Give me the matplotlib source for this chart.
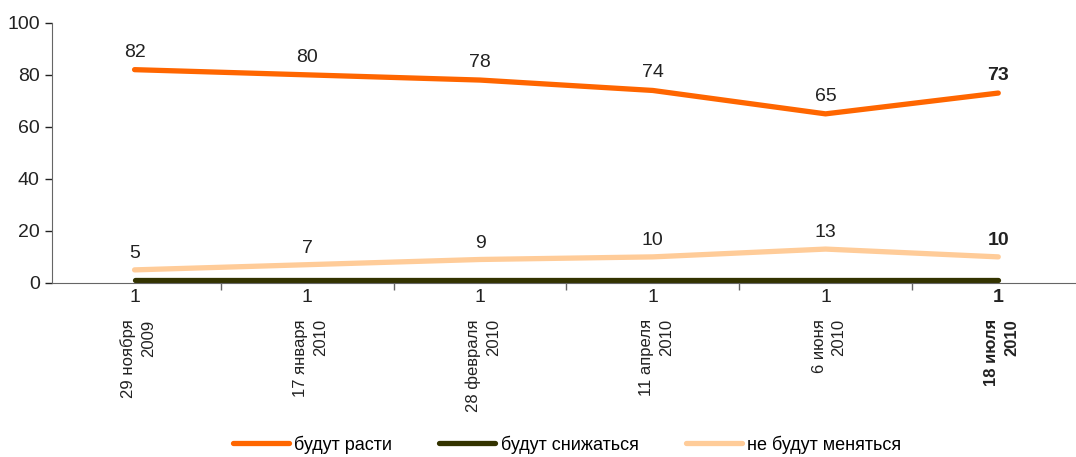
import matplotlib.pyplot as plt

dates = ["29 ноября\n2009", "17 января\n2010", "28 февраля\n2010",
         "11 апреля\n2010", "6 июня\n2010", "18 июля\n2010"]
rastut = [82, 80, 78, 74, 65, 73]
snizhayutsya = [1, 1, 1, 1, 1, 1]
ne_menyayutsya = [5, 7, 9, 10, 13, 10]

plt.rcParams['font.family'] = ['Liberation Sans', 'DejaVu Sans']

fig = plt.figure(figsize=(10.76, 4.57), dpi=100)
ax = fig.add_axes([0.048, 0.381, 0.952, 0.569])

x = list(range(len(dates)))
ax.plot(x, rastut, color="#FF6600", lw=3.8, solid_capstyle="round", label="будут расти")
ax.plot(x, snizhayutsya, color="#333300", lw=3.8, solid_capstyle="round", label="будут снижаться")
ax.plot(x, ne_menyayutsya, color="#FFCC99", lw=3.8, solid_capstyle="round", label="не будут меняться")

last = len(x) - 1
for i in x:
    w = "bold" if i == last else "normal"
    ax.text(i, rastut[i] + 3.5, str(rastut[i]), ha="center", va="bottom", fontsize=14, color="#222222", weight=w)
    ax.text(i, ne_menyayutsya[i] + 3, str(ne_menyayutsya[i]), ha="center", va="bottom", fontsize=14, color="#222222", weight=w)
    ax.text(i, -2.5, str(snizhayutsya[i]), ha="center", va="top", fontsize=14, color="#222222", weight=w)

ax.set_ylim(0, 100)
ax.set_xlim(-0.48, 5.45)
ax.set_yticks([0, 20, 40, 60, 80, 100])
ax.tick_params(axis="y", labelsize=14, colors="#222222", length=5, width=1)
ax.spines["top"].set_visible(False)
ax.spines["right"].set_visible(False)
ax.spines["left"].set_color("#666666")
ax.spines["bottom"].set_color("#666666")

ax.set_xticks([i + 0.5 for i in x[:-1]])
ax.set_xticklabels([])
ax.tick_params(axis="x", length=5, width=1, colors="#666666")
for i in x:
    w = "bold" if i == last else "normal"
    ax.text(i + 0.02, -14, dates[i], rotation=90, ha="center", va="top", multialignment="right",
            fontsize=12, color="#222222", weight=w, linespacing=1.4)

leg = fig.legend(loc="center", bbox_to_anchor=(0.527, 0.027), ncol=3, frameon=False,
                 fontsize=13, handlelength=3.1, handletextpad=0.3, columnspacing=2.6)

fig.savefig("out.png", dpi=100)
